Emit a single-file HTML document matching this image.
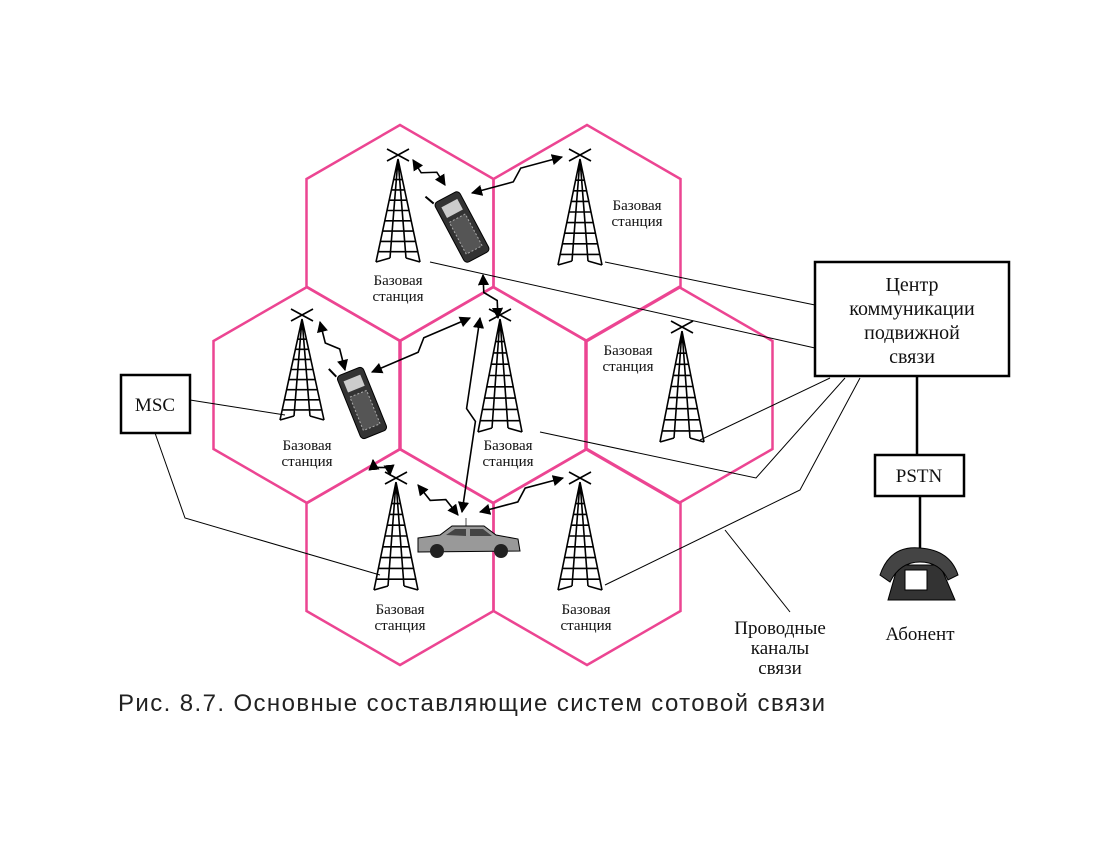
<!DOCTYPE html>
<html><head><meta charset="utf-8"><style>
html,body{margin:0;padding:0;background:#fff;}
svg{display:block;}
.lbl{font-family:"Liberation Serif","DejaVu Serif",serif;font-size:15px;fill:#111;text-anchor:middle;}
.big{font-family:"Liberation Serif","DejaVu Serif",serif;fill:#111;text-anchor:middle;}
</style></head><body>
<svg id="s" width="1102" height="857" viewBox="0 0 1102 857" xmlns="http://www.w3.org/2000/svg">
<defs>
<marker id="ah" viewBox="0 0 10 10" refX="9" refY="5" markerWidth="7" markerHeight="7" orient="auto-start-reverse"><path d="M0,0 L10,5 L0,10 z" fill="#000"/></marker>
</defs>
<g id="hexes"></g>
<g id="wires" stroke="#000" stroke-width="1" fill="none">
<polyline points="430,262 815,348"/>
<polyline points="605,262 815,305"/>
<polyline points="700,440 830,378"/>
<polyline points="540,432 756,478 845,378"/>
<polyline points="605,585 800,490 860,378"/>
<polyline points="190,400 285,415"/>
<polyline points="155,433 185,518 380,575"/>
<polyline points="725,530 790,612"/>
<line x1="917" y1="376" x2="917" y2="455" stroke-width="2.5"/>
<line x1="920" y1="496" x2="920" y2="550" stroke-width="2.5"/>
</g>
<g id="towers"></g>
<g id="arrows" stroke="#000" stroke-width="1.6" fill="none"></g>
<g transform="translate(462,227) rotate(-28)">
<line x1="-14" y1="-34" x2="-18" y2="-44" stroke="#000" stroke-width="2"/>
<rect x="-14" y="-34" width="28" height="68" rx="4" fill="#333" stroke="#000"/>
<rect x="-9" y="-27" width="18" height="12" fill="#ccc"/>
<rect x="-9" y="-10" width="18" height="36" fill="#555" stroke="#aaa" stroke-dasharray="2,2"/>
</g>
<g transform="translate(362,403) rotate(-22)">
<line x1="-14" y1="-34" x2="-18" y2="-44" stroke="#000" stroke-width="2"/>
<rect x="-14" y="-34" width="28" height="68" rx="4" fill="#333" stroke="#000"/>
<rect x="-9" y="-27" width="18" height="12" fill="#ccc"/>
<rect x="-9" y="-10" width="18" height="36" fill="#555" stroke="#aaa" stroke-dasharray="2,2"/>
</g>
<g>
<line x1="466" y1="518" x2="466" y2="528" stroke="#888" stroke-width="1.5"/>
<path d="M418,538 L440,535 L452,526 L484,526 L496,535 L518,539 L520,551 L418,552 z" fill="#999" stroke="#000"/>
<path d="M446,535 L455,529 L466,529 L466,536 z M470,529 L483,529 L492,536 L470,536 z" fill="#444"/>
<circle cx="437" cy="551" r="7" fill="#222"/><circle cx="501" cy="551" r="7" fill="#222"/>
</g>
<g>
<path d="M888,600 L898,565 L940,565 L955,600 z" fill="#333" stroke="#000"/>
<path d="M880,575 Q890,545 920,548 Q950,550 958,575 L948,580 Q940,562 920,562 Q900,562 890,582 z" fill="#444" stroke="#000"/>
<rect x="905" y="570" width="22" height="20" fill="#fff" stroke="#000"/>
</g>
<text class="big" x="920" y="640" font-size="19">Абонент</text>
<rect x="121" y="375" width="69" height="58" fill="#fff" stroke="#000" stroke-width="2.5"/>
<text class="big" x="155" y="411" font-size="19">MSC</text>
<rect x="815" y="262" width="194" height="114" fill="#fff" stroke="#000" stroke-width="2.5"/>
<g class="big" font-size="20">
<text x="912" y="291">Центр</text><text x="912" y="315">коммуникации</text><text x="912" y="339">подвижной</text><text x="912" y="363">связи</text></g>
<rect x="875" y="455" width="89" height="41" fill="#fff" stroke="#000" stroke-width="2.5"/>
<text class="big" x="919" y="482" font-size="19">PSTN</text>
<g class="big" font-size="19">
<text x="780" y="634">Проводные</text><text x="780" y="654">каналы</text><text x="780" y="674">связи</text></g>
<text x="118" y="711" font-family="'Liberation Sans','DejaVu Sans',sans-serif" font-size="24" letter-spacing="1.4" fill="#222">Рис. 8.7. Основные составляющие систем сотовой связи</text>
</svg>
<script>
const NS="http://www.w3.org/2000/svg";
const hexCenters=[[400,233],[587,233],[307,395],[493,395],[679,395],[400,557],[587,557]];
const towers=[[398,155,262],[580,155,265],[302,315,420],[500,315,432],[682,327,442],[396,478,590],[580,478,590]];
const towerLabels=[[398,285],[637,210],[307,450],[508,450],[628,355],[400,614],[586,614]];
const arrowsData=[[413,160,445,185],[472,193,562,157],[483,275,498,318],[372,372,470,318],[320,322,345,370],[373,460,390,475],[418,485,458,515],[480,318,462,512],[480,512,563,478]];
const hg=document.getElementById('hexes');
hexCenters.forEach(([cx,cy])=>{
 const p=document.createElementNS(NS,'polygon');
 const r=108,w=93.5;
 p.setAttribute('points',[[cx,cy-r],[cx+w,cy-r/2],[cx+w,cy+r/2],[cx,cy+r],[cx-w,cy+r/2],[cx-w,cy-r/2]].map(a=>a.join(',')).join(' '));
 p.setAttribute('fill','none');p.setAttribute('stroke','#ec4592');p.setAttribute('stroke-width','2.5');
 
 
 hg.appendChild(p);
});
const tg=document.getElementById('towers');
towers.forEach(([cx,top,base],i)=>{
 const g=document.createElementNS(NS,'g');
 
 
 let d=`M${cx-11},${top-6}L${cx+11},${top+6}M${cx+11},${top-6}L${cx-11},${top+6}`;
 const ap=top+4;
 d+=`M${cx},${ap}L${cx-22},${base}M${cx},${ap}L${cx+22},${base}M${cx},${ap}L${cx-8},${base-4}M${cx},${ap}L${cx+8},${base-4}`;
 d+=`M${cx-22},${base}L${cx-8},${base-4}M${cx+22},${base}L${cx+8},${base-4}`;
 for(let k=1;k<=9;k++){const y=ap+(base-ap)*k/10;const hw=22*k/10;d+=`M${cx-hw},${y}L${cx+hw},${y}`;}
 const p=document.createElementNS(NS,'path');
 p.setAttribute('d',d);p.setAttribute('stroke','#000');p.setAttribute('stroke-width','1.6');p.setAttribute('fill','none');
 g.appendChild(p);tg.appendChild(g);
 const [lx,ly]=towerLabels[i];
 ['Базовая','станция'].forEach((t,j)=>{
  const tx=document.createElementNS(NS,'text');
  tx.setAttribute('x',lx);tx.setAttribute('y',ly+j*16);tx.setAttribute('class','lbl');tx.textContent=t;
  
  
  tg.appendChild(tx);
 });
});
const ag=document.getElementById('arrows');
arrowsData.forEach(([x1,y1,x2,y2])=>{
 const dx=x2-x1,dy=y2-y1,L=Math.hypot(dx,dy),ux=dx/L,uy=dy/L,nx=-uy,ny=ux;
 const mx=(x1+x2)/2,my=(y1+y2)/2,z=5;
 const pts=[[x1,y1],[mx-ux*6+nx*z,my-uy*6+ny*z],[mx+ux*6-nx*z,my+uy*6-ny*z],[x2,y2]];
 const p=document.createElementNS(NS,'polyline');
 p.setAttribute('points',pts.map(a=>a.join(',')).join(' '));
 p.setAttribute('marker-start','url(#ah)');p.setAttribute('marker-end','url(#ah)');
 
 
 ag.appendChild(p);
});
</script>
</body></html>
